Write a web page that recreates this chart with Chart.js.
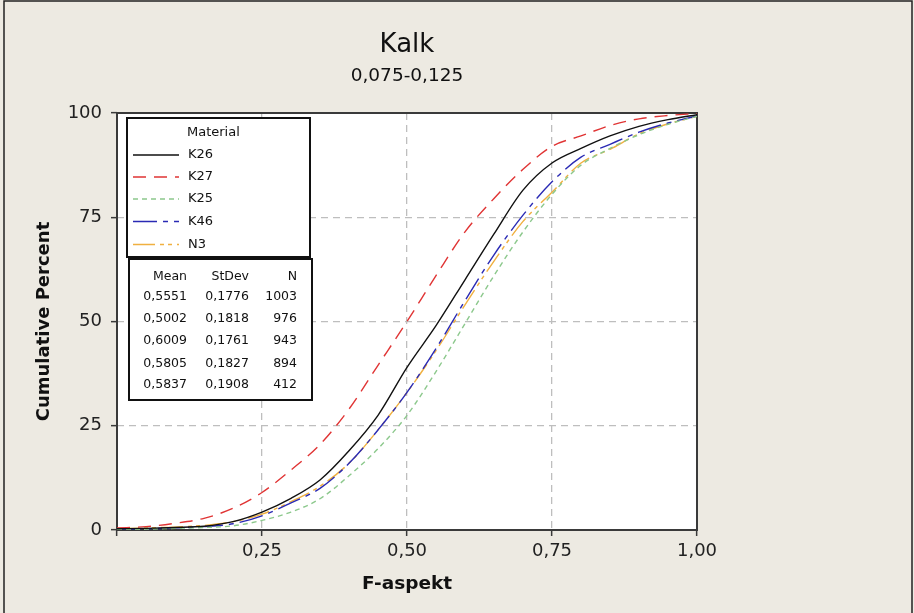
<!DOCTYPE html>
<html>
<head>
<meta charset="utf-8">
<title>Kalk</title>
<script src="https://cdn.jsdelivr.net/npm/chart.js@4.4.0/dist/chart.umd.min.js"></script>
<style>
  html, body { margin: 0; padding: 0; background: #EDEAE2; }
  #wrap { width: 914px; height: 613px; position: relative; }
</style>
</head>
<body>
<div id="wrap"><canvas id="chartCanvas"></canvas></div>
<script>
// values (cumulative percent at each F-aspekt)
const xValues = [0, 0.05, 0.10, 0.15, 0.20, 0.25, 0.30, 0.35, 0.40, 0.45, 0.50,
                 0.55, 0.60, 0.65, 0.70, 0.75, 0.80, 0.85, 0.90, 0.95, 1.00];
const materials = ['K26', 'K27', 'K25', 'K46', 'N3'];
const k26 = [0.3, 0.4, 0.6, 0.9, 2.0, 4.3, 7.6, 12, 19, 27.5, 39, 49, 60, 71, 81.5, 88, 91.5, 94.5, 96.8, 98.4, 99.6];
const k27 = [0.5, 0.8, 1.6, 2.8, 5.2, 9.0, 14.4, 20.5, 29, 39.5, 50, 61, 71.5, 79.5, 86.5, 92, 94.5, 97, 98.6, 99.4, 99.9];
const k25 = [0.1, 0.2, 0.4, 0.6, 1.0, 2.3, 4.3, 7.5, 13, 19.5, 27.5, 38, 49.5, 61, 71.5, 80.5, 87.5, 91.5, 94.8, 97.3, 99.2];
const k46 = [0.2, 0.3, 0.5, 0.8, 1.5, 3.4, 6.5, 10, 16, 24, 33, 43.5, 55, 66, 75.5, 83.5, 89.4, 92.5, 95.4, 97.6, 99.3];
const n3  = [0.3, 0.5, 0.7, 1.1, 2.0, 3.8, 6.8, 10.5, 16, 24, 33, 43, 54, 64.5, 74, 81, 88, 91.3, 95, 97.4, 99.2];
const means  = ['0,5551', '0,5002', '0,6009', '0,5805', '0,5837'];
const stdevs = ['0,1776', '0,1818', '0,1761', '0,1827', '0,1908'];
const counts = ['1003', '976', '943', '894', '412'];
const mainTitle = 'Kalk';
const subTitle = '0,075-0,125';

const FONT = "'DejaVu Sans', sans-serif";
const series = [k26, k27, k25, k46, n3];
const colors = ['#111111', '#E03434', '#8CC88C', '#2A2AB4', '#F0B040'];
const dashes = [[], [13, 8], [5, 4], [24, 6, 5, 6], [22, 5, 4, 4, 4, 5]];

const datasets = materials.map((m, i) => ({
  label: m,
  data: xValues.map((x, j) => ({ x: x, y: series[i][j] })),
  borderColor: colors[i],
  borderDash: dashes[i],
  borderWidth: 1.4,
  pointRadius: 0,
  fill: false,
  cubicInterpolationMode: 'monotone'
}));

const frame = {
  id: 'frame',
  beforeDraw(chart) {
    const c = chart.ctx;
    c.save();
    c.fillStyle = '#EDEAE2';
    c.fillRect(0, 0, chart.width, chart.height);
    c.fillStyle = '#ffffff';
    const a = chart.chartArea;
    c.fillRect(a.left, a.top, a.right - a.left, a.bottom - a.top);
    c.strokeStyle = '#222';
    c.lineWidth = 1.5;
    c.beginPath();
    c.moveTo(4, chart.height);
    c.lineTo(4, 1);
    c.lineTo(912, 1);
    c.lineTo(912, chart.height);
    c.stroke();
    // titles, centred over the plot area
    const cx = (a.left + a.right) / 2;
    c.fillStyle = '#111';
    c.textAlign = 'center';
    c.textBaseline = 'middle';
    c.font = '26px ' + FONT;
    c.fillText(mainTitle, cx, 45);
    c.font = '18.5px ' + FONT;
    c.fillText(subTitle, cx, 76);
    c.restore();
  },
  beforeDatasetsDraw(chart) {
    const c = chart.ctx, a = chart.chartArea;
    c.save();
    c.strokeStyle = '#3a3a3a';
    c.lineWidth = 2;
    c.strokeRect(a.left, a.top, a.right - a.left, a.bottom - a.top);
    c.restore();
  },
  afterDraw(chart) {
    const c = chart.ctx;
    c.save();
    // legend box
    c.fillStyle = '#fff';
    c.fillRect(127, 118, 183, 139);
    c.strokeStyle = '#111';
    c.lineWidth = 2;
    c.strokeRect(127, 118, 183, 139);
    c.fillStyle = '#111';
    c.font = '13px ' + FONT;
    c.textBaseline = 'middle';
    c.textAlign = 'left';
    c.fillText('Material', 187, 133);
    const rows = [155, 177, 199, 221.5, 244.5];
    materials.forEach((m, i) => {
      c.strokeStyle = colors[i];
      c.lineWidth = 1.5;
      c.setLineDash(dashes[i]);
      c.beginPath();
      c.moveTo(133, rows[i]);
      c.lineTo(179, rows[i]);
      c.stroke();
      c.setLineDash([]);
      c.fillStyle = '#111';
      c.fillText(m, 188, rows[i]);
    });
    // stats table
    c.fillStyle = '#fff';
    c.fillRect(129, 259, 183, 141);
    c.strokeStyle = '#111';
    c.lineWidth = 2;
    c.strokeRect(129, 259, 183, 141);
    c.fillStyle = '#111';
    c.font = '12.5px ' + FONT;
    c.textAlign = 'right';
    const sy = [297, 319, 341, 364, 385];
    c.fillText('Mean', 187, 277);
    c.fillText('StDev', 249, 277);
    c.fillText('N', 297, 277);
    materials.forEach((m, i) => {
      c.fillText(means[i], 187, sy[i]);
      c.fillText(stdevs[i], 249, sy[i]);
      c.fillText(counts[i], 297, sy[i]);
    });
    c.restore();
  }
};

const gridColor = (lo, hi) => (ctx) =>
  (ctx.tick && (ctx.tick.value === lo || ctx.tick.value === hi)) ? 'rgba(0,0,0,0)' : '#BEBEBE';

new Chart(document.getElementById('chartCanvas').getContext('2d'), {
  type: 'line',
  data: { datasets: datasets },
  options: {
    responsive: true,
    maintainAspectRatio: false,
    animation: false,
    layout: { padding: { left: 0, right: 217, top: 113, bottom: 0 } },
    plugins: {
      legend: { display: false },
      tooltip: { enabled: false }
    },
    scales: {
      x: {
        type: 'linear',
        min: 0,
        max: 1,
        afterFit(scale) { scale.height = 83; },
        ticks: {
          stepSize: 0.25,
          color: '#222',
          padding: 5,
          font: { family: FONT, size: 18 },
          callback: v => v === 0 ? '' : v.toFixed(2).replace('.', ',')
        },
        grid: {
          color: gridColor(0, 1),
          lineWidth: 1.3,
          tickLength: 6,
          tickColor: '#3a3a3a',
          tickBorderDash: [],
          tickWidth: 1.5
        },
        border: { display: false, dash: [7, 5] },
        title: {
          display: true,
          text: 'F-aspekt',
          color: '#111',
          font: { family: FONT, size: 18.5, weight: 'bold' },
          padding: { top: 0, bottom: 18 }
        }
      },
      y: {
        min: 0,
        max: 100,
        afterFit(scale) { scale.width = 117; },
        ticks: {
          stepSize: 25,
          color: '#222',
          padding: 9,
          font: { family: FONT, size: 18 }
        },
        grid: {
          color: gridColor(0, 100),
          lineWidth: 1.3,
          tickLength: 6,
          tickColor: '#3a3a3a',
          tickBorderDash: [],
          tickWidth: 1.5
        },
        border: { display: false, dash: [7, 5] },
        title: {
          display: true,
          text: 'Cumulative Percent',
          color: '#111',
          font: { family: FONT, size: 18, weight: 'bold' },
          padding: { top: 34, bottom: 0 }
        }
      }
    }
  },
  plugins: [frame]
});
</script>
</body>
</html>
